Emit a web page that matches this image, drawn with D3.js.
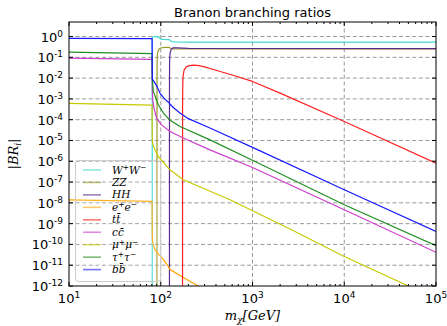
<!DOCTYPE html>
<html>
<head>
<meta charset="utf-8">
<script src="https://cdn.jsdelivr.net/npm/d3@7"></script>
<style>
body{margin:0;background:#fff}
svg{display:block}
</style>
</head>
<body>
<svg width="447" height="326"></svg>
<script>
// branching ratios: [mass GeV, log10(BR)]
const WW = [[80.75,-14],[80.8,-0.5],[80.9,-0.06],[81.5,-0.01],[90.9,-0.005],[95,-0.04],[100,-0.11],[105,-0.14],[124,-0.15],[126,-0.18],[130,-0.24],[140,-0.26],[200,-0.27],[1e5,-0.27]];
const ZZ = [[90.9,-14],[91.0,-2.5],[91.3,-1.2],[92,-0.85],[94,-0.68],[97,-0.58],[102,-0.54],[115,-0.52],[124,-0.52],[126,-0.55],[130,-0.58],[140,-0.6],[1e5,-0.6]];
const HH = [[124.4,-14],[124.5,-2.5],[124.8,-1.3],[125.5,-0.95],[127,-0.75],[130,-0.62],[135,-0.55],[150,-0.55],[200,-0.57],[1e5,-0.58]];
const ee = [[10,-7.86],[80.4,-7.93],[80.6,-8.6],[80.9,-9.6],[82,-9.95],[86.5,-10.25],[91,-10.4],[98,-10.54],[110,-10.8],[121,-11.06],[126,-11.2],[169,-11.54],[256,-12.0],[400,-12.4]];
const tt = [[172.8,-14],[173,-3.5],[173.5,-2.5],[175,-1.9],[180,-1.6],[190,-1.46],[205,-1.4],[230,-1.38],[260,-1.4],[300,-1.46],[400,-1.62],[600,-1.85],[1000,-2.16],[2000,-2.72],[1e4,-4.09],[1e5,-6.09]];
const cc = [[10,-1.04],[80.4,-1.1],[80.6,-1.7],[80.9,-2.6],[82,-3.1],[84.4,-3.44],[90,-3.92],[102,-4.25],[126,-4.57],[176,-4.88],[344,-5.45],[1e3,-6.3],[1e4,-8.33],[1e5,-10.38]];
const mumu = [[10,-3.22],[80.4,-3.3],[80.6,-4.2],[80.9,-4.95],[82,-5.2],[86.5,-5.45],[94,-5.77],[126,-6.41],[176,-6.89],[569,-7.85],[1e3,-8.38],[2564,-9.26],[1e4,-10.58],[5e4,-12.0],[1e5,-12.6]];
const tautau = [[10,-0.75],[80.4,-0.82],[80.6,-1.4],[80.9,-2.1],[83,-2.64],[94,-3.28],[107,-3.68],[124,-4.0],[162,-4.33],[344,-4.97],[1e3,-5.95],[1e4,-8.09],[1e5,-10.06]];
const bb = [[10,-0.09],[80.4,-0.1],[80.6,-0.8],[80.8,-1.7],[81.2,-2.05],[86.5,-2.24],[91,-2.4],[98,-2.72],[110,-3.0],[124,-3.2],[127,-3.27],[140,-3.45],[162,-3.68],[200,-3.95],[344,-4.4],[1e3,-5.33],[1e4,-7.37],[1e5,-9.375]];

// legend labels: [base, sup, base, sup]
const labels = [["W","+","W","−"],["ZZ"],["HH"],["e","+","e","−"],["tt̄"],["cc̄"],["μ","+","μ","−"],["τ","+","τ","−"],["bb̄"]];
const colours = ["#40d8d0","#9a9a2a","#5a2a8c","#ffa500","#ff2020","#cc3ccc","#c8c800","#1f8f1f","#1818ff"];
const xTickExp = [1,2,3,4,5];
const yTickExp = [-12,-11,-10,-9,-8,-7,-6,-5,-4,-3,-2,-1,0];

const curves = [WW,ZZ,HH,ee,tt,cc,mumu,tautau,bb];

const svg = d3.select("svg");
const L=69, R=436, T=22, B=286;

const x = d3.scaleLog().domain([10,1e5]).range([L,R]);
const y = d3.scaleLog().domain([1e-12,5]).range([B,T]);

svg.append("clipPath").attr("id","plot")
   .append("rect").attr("x",L).attr("y",T).attr("width",R-L).attr("height",B-T);

// grid
const grid = svg.append("g").attr("stroke","#999").attr("stroke-width",1).attr("stroke-dasharray","4,2.6");
xTickExp.slice(1,-1).forEach(e=>{
    grid.append("line").attr("x1",x(10**e)).attr("x2",x(10**e)).attr("y1",T).attr("y2",B);
});
yTickExp.slice(1).forEach(e=>{
    grid.append("line").attr("x1",L).attr("x2",R).attr("y1",y(10**e)).attr("y2",y(10**e));
});

// curves
const line = d3.line().x(d=>x(d[0])).y(d=>y(10**d[1]));
const lines = svg.append("g").attr("clip-path","url(#plot)");
curves.forEach((c,i)=>{
    lines.append("path").attr("d",line(c))
         .attr("fill","none").attr("stroke",colours[i]).attr("stroke-width",1.2)
         .attr("stroke-linejoin","round");
});

// legend
const lg = svg.append("g");
lg.append("rect").attr("x",75.5).attr("y",160.5).attr("width",85).attr("height",121).attr("rx",3)
  .attr("fill","#fff").attr("fill-opacity",0.15).attr("stroke","#ccc");
labels.forEach((lab,i)=>{
    const yy = 170 + i*12.45;
    lg.append("line").attr("x1",83).attr("x2",101).attr("y1",yy).attr("y2",yy)
      .attr("stroke",colours[i]).attr("stroke-width",1.6).attr("stroke-opacity",0.6);
    const t = lg.append("text").attr("x",112).attr("y",yy+3.5)
      .attr("font-family","DejaVu Serif").attr("font-style","italic").attr("font-size",10.5);
    lab.forEach((s,k)=>{
        if (k%2==0) t.append("tspan").attr("dy",k==0?0:3.5).attr("font-size",10.5).text(s);
        else t.append("tspan").attr("dy",-3.5).attr("font-size",7.5).text(s);
    });
});

// frame and ticks
const ax = svg.append("g").attr("stroke","#000").attr("stroke-width",1);
ax.append("rect").attr("x",L).attr("y",T).attr("width",R-L).attr("height",B-T).attr("fill","none");
xTickExp.forEach(e=>{
    const xx = x(10**e);
    ax.append("line").attr("x1",xx).attr("x2",xx).attr("y1",B).attr("y2",B-4);
    ax.append("line").attr("x1",xx).attr("x2",xx).attr("y1",T).attr("y2",T+4);
    if (e<5) d3.range(2,10).forEach(k=>{
        const xm = x(k*10**e);
        ax.append("line").attr("x1",xm).attr("x2",xm).attr("y1",B).attr("y2",B-2);
        ax.append("line").attr("x1",xm).attr("x2",xm).attr("y1",T).attr("y2",T+2);
    });
});
yTickExp.forEach(e=>{
    const yy = y(10**e);
    ax.append("line").attr("x1",L).attr("x2",L+4).attr("y1",yy).attr("y2",yy);
    ax.append("line").attr("x1",R).attr("x2",R-4).attr("y1",yy).attr("y2",yy);
});

// tick labels
const tl = svg.append("g").attr("font-family","DejaVu Sans").attr("fill","#000");
xTickExp.forEach(e=>{
    const t = tl.append("text").attr("x",x(10**e)).attr("y",303).attr("text-anchor","middle").attr("font-size",13);
    t.append("tspan").text("10");
    t.append("tspan").attr("dy",-5).attr("font-size",9).text(e);
});
yTickExp.forEach(e=>{
    const t = tl.append("text").attr("x",63).attr("y",y(10**e)+5).attr("text-anchor","end").attr("font-size",13);
    t.append("tspan").text("10");
    t.append("tspan").attr("dy",-5).attr("font-size",9).text(e);
});

// title and axis labels
svg.append("text").attr("x",(L+R)/2).attr("y",17).attr("text-anchor","middle")
   .attr("font-family","DejaVu Sans").attr("font-size",13).text("Branon branching ratios");

const xl = svg.append("text").attr("x",(L+R)/2).attr("y",320).attr("text-anchor","middle")
   .attr("font-family","DejaVu Serif").attr("font-style","italic").attr("font-size",13);
xl.append("tspan").text("m");
xl.append("tspan").attr("dy",3).attr("font-size",9).text("χ");
xl.append("tspan").attr("dy",-3).text("[GeV]");

const yl = svg.append("text").attr("transform",`translate(18,${(T+B)/2}) rotate(-90)`).attr("text-anchor","middle")
   .attr("font-family","DejaVu Serif").attr("font-style","italic").attr("font-size",13);
yl.append("tspan").attr("font-style","normal").text("|");
yl.append("tspan").text("BR");
yl.append("tspan").attr("dy",3).attr("font-size",9).text("i");
yl.append("tspan").attr("dy",-3).attr("font-style","normal").text("|");
</script>
</body>
</html>
